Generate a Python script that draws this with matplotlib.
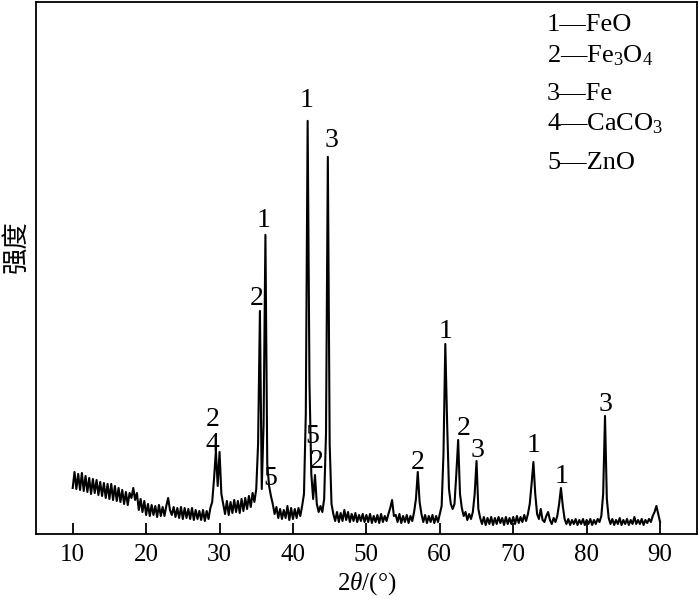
"""
XRD pattern of the reduced sample, redrawn from the published figure.
Run: python plot.py
"""

import numpy as np
import matplotlib
matplotlib.use("Agg")
import matplotlib.pyplot as plt

plt.rcParams.update({
    "font.family": ["Liberation Serif", "DejaVu Serif"],
    "mathtext.fontset": "custom",
    "mathtext.rm": "Liberation Serif",
    "mathtext.it": "Liberation Serif:italic",
    "axes.linewidth": 1.3,
})

# measurement grid 10..90 deg, 0.25 deg step
two_theta = np.arange(10, 90.001, 0.25)

# intensities (arbitrary units), 5 deg per row
r10 = [46, 62, 45, 60, 44, 61, 43, 58, 42, 56, 40, 55, 41, 54, 39, 52, 38, 51, 36, 50]
r15 = [35, 50, 34, 48, 33, 46, 32, 44, 30, 42, 29, 41, 36, 46, 34, 41, 24, 35, 22, 33]
r20 = [19, 30, 18, 29, 19, 28, 17, 29, 18, 27, 18, 28, 36, 24, 19, 27, 17, 26, 16, 27]
r25 = [15, 26, 16, 25, 15, 26, 14, 24, 15, 23, 14, 24, 13, 23, 15, 26, 32, 55, 83, 48]
r30 = [82, 40, 30, 20, 33, 19, 32, 21, 34, 22, 33, 21, 35, 23, 36, 25, 38, 27, 41, 32]
r35 = [45, 90, 223, 45, 110, 299, 70, 48, 38, 30, 20, 27, 16, 25, 15, 24, 16, 28, 14, 26]
r40 = [15, 25, 16, 26, 18, 28, 40, 120, 413, 150, 60, 35, 59, 30, 22, 28, 22, 35, 100, 377]
r45 = [90, 30, 20, 13, 22, 12, 21, 13, 24, 14, 22, 12, 20, 13, 21, 12, 19, 13, 20, 12]
r50 = [19, 12, 20, 11, 18, 12, 19, 11, 20, 12, 18, 13, 20, 26, 34, 18, 19, 12, 20, 11]
r55 = [18, 12, 19, 11, 18, 13, 22, 35, 62, 32, 20, 12, 19, 11, 18, 12, 19, 11, 18, 12]
r60 = [20, 28, 80, 190, 110, 45, 30, 25, 30, 60, 94, 40, 26, 18, 22, 14, 20, 15, 22, 40]
r65 = [73, 25, 16, 10, 17, 9, 16, 10, 17, 9, 16, 10, 17, 11, 16, 9, 17, 10, 16, 10]
r70 = [17, 10, 18, 11, 17, 12, 19, 13, 20, 30, 50, 72, 40, 20, 15, 25, 14, 12, 18, 22]
r75 = [14, 10, 16, 12, 18, 30, 46, 28, 15, 10, 15, 9, 14, 10, 15, 9, 14, 10, 15, 9]
r80 = [14, 10, 15, 9, 14, 10, 15, 12, 18, 40, 118, 35, 16, 10, 15, 9, 14, 10, 16, 9]
r85 = [14, 10, 15, 9, 14, 10, 17, 10, 14, 10, 15, 9, 14, 11, 15, 12, 18, 22, 28, 20]
r90 = [12]

intensity = np.array(r10 + r15 + r20 + r25 + r30 + r35 + r40 + r45
                     + r50 + r55 + r60 + r65 + r70 + r75 + r80 + r85 + r90)

# phase labels over the peaks
peak_labels = ["2", "4", "2", "1", "5", "1", "5", "2", "3",
               "2", "1", "2", "3", "1", "1", "3"]
label_x = [29.0, 29.0, 35.1, 36.05, 36.9, 41.9, 42.6, 43.25, 45.3,
           56.95, 60.75, 63.2, 65.2, 72.8, 76.6, 82.6]
label_y = [114, 89, 235, 313, 55, 433, 97, 72, 393,
           71, 202, 105, 83, 88, 57, 129]

legend_lines = ["1—FeO", "2—Fe$_3$O$_4$", "3—Fe", "4—CaCO$_3$", "5—ZnO"]
legend_y = [503, 471, 434, 403, 365]

xticks = [10, 20, 30, 40, 50, 60, 70, 80, 90]

fig = plt.figure(figsize=(7, 6), dpi=100)
ax = fig.add_axes([0.0514, 0.11, 0.944, 0.887])

ax.plot(two_theta, intensity, color="black", linewidth=1.5)

for t, x, y in zip(peak_labels, label_x, label_y):
    ax.text(x, y, t, fontsize=20, ha="center", va="center")

for t, y in zip(legend_lines, legend_y):
    ax.text(74.6, y, t, fontsize=19, ha="left", va="baseline")

ax.set_xlim(5, 95)
ax.set_ylim(0, 532)
ax.set_xticks(xticks)
ax.set_yticks([])
ax.tick_params(axis="x", direction="in", length=8, width=1.3,
               labelsize=18, pad=7)
ax.set_xlabel(r"2$\it{\theta}$/(°)", fontsize=18, labelpad=3)

fig.text(16 / 700, 1 - 247 / 600, "强度", rotation=90, fontsize=19,
         ha="center", va="center", family=["Noto Sans CJK SC", "DejaVu Sans"])

fig.savefig("out.png", dpi=100)
print("[OK] Saved -> out.png")
